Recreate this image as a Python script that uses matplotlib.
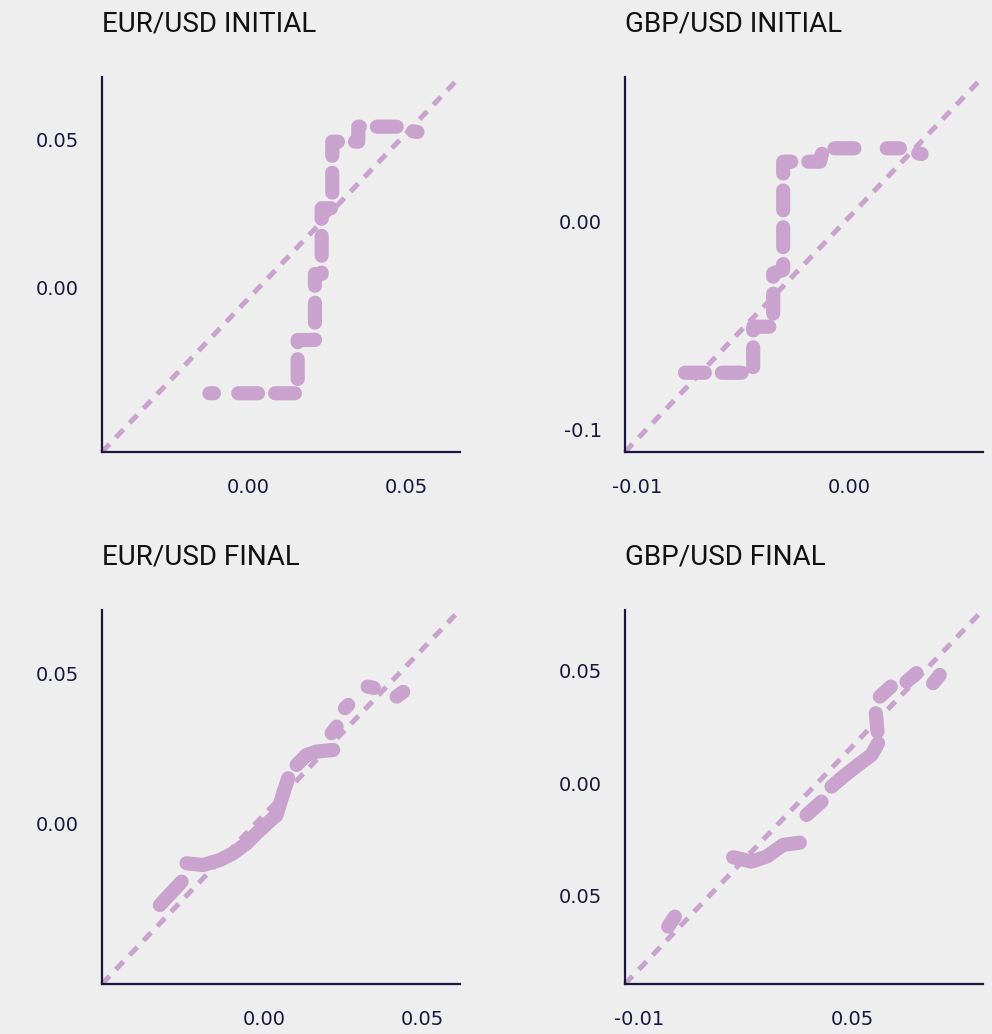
import matplotlib
matplotlib.use("Agg")
import matplotlib.pyplot as plt

bg = "#eeeeee"
navy = "#17173f"
lilac = "#c9a2cd"
nan = float("nan")

titles = ["EUR/USD INITIAL", "GBP/USD INITIAL", "EUR/USD FINAL", "GBP/USD FINAL"]

# quantile pairs (theoretical, sample) for each panel; nan splits the runs
eur_init_x = [-0.01218, -0.01076, nan,
              -0.00307, 0.01573, 0.01573, 0.02120, 0.02120, 0.02332, 0.02332, 0.02668, 0.02668,
              0.03491, 0.03491, 0.04706, nan,
              0.05222, 0.05364]
eur_init_y = [-0.03557, -0.03557, nan,
              -0.03557, -0.03557, -0.01757, -0.01757, 0.00473, 0.00473, 0.02693, 0.02693, 0.04943,
              0.04943, 0.05449, 0.05449, nan,
              0.05294, 0.05270]

gbp_init_x = [-0.00773, -0.00453, -0.00453, -0.00359, -0.00359, -0.00312, -0.00312, -0.00139,
              -0.00124, 0.00080, nan,
              0.00174, 0.00236, nan,
              0.00322, 0.00338]
gbp_init_y = [-0.07260, -0.07260, -0.05048, -0.05048, -0.02481, -0.02322, 0.02885, 0.02885,
              0.03529, 0.03529, nan,
              0.03529, 0.03529, nan,
              0.03288, 0.03255]

eur_final_x = [-0.03307, -0.02620, nan,
               -0.02462, -0.01937, -0.01408, -0.00987, -0.00563, -0.00196, 0.00386, 0.00595, 0.00753, nan,
               0.01019, 0.01335, 0.01652, 0.02177, nan,
               0.02127, 0.02285, nan,
               0.02547, 0.02652, nan,
               0.03266, 0.03465, nan,
               0.04184, 0.04392]
eur_final_y = [-0.02700, -0.01923, nan,
               -0.01310, -0.01367, -0.01200, -0.00977, -0.00643, -0.00257, 0.00300, 0.01023, 0.01523, nan,
               0.01967, 0.02300, 0.02410, 0.02467, nan,
               0.03023, 0.03243, nan,
               0.03857, 0.03967, nan,
               0.04577, 0.04533, nan,
               0.04243, 0.04400]

gbp_final_x = [-0.00178, 0.00009, nan,
               0.01644, 0.02160, 0.02580, 0.03046, 0.03514, nan,
               0.03702, 0.04122, nan,
               0.04403, 0.04728, 0.05149, 0.05524, 0.05709, nan,
               0.05692, 0.05645, nan,
               0.05757, 0.06065, nan,
               0.06505, 0.06786, nan,
               0.07251, 0.07439]
gbp_final_y = [-0.06373, -0.05929, nan,
               -0.03289, -0.03484, -0.03262, -0.02742, -0.02640, nan,
               -0.01409, -0.00818, nan,
               -0.00151, 0.00293, 0.00813, 0.01258, 0.01778, nan,
               0.02293, 0.03111, nan,
               0.03849, 0.04293, nan,
               0.04516, 0.04889, nan,
               0.04444, 0.04813]

xlims = [(-0.0462, 0.0671), (-0.01055, 0.00626), (-0.0514, 0.0619), (-0.0139, 0.0865)]
ylims = [(-0.0554, 0.0713), (-0.1107, 0.0696), (-0.0533, 0.0713), (-0.0892, 0.0770)]

xtick_vals = [[0.0, 0.05], [-0.01, 0.0], [0.0, 0.05], [-0.01, 0.05]]
xtick_labels = [["0.00", "0.05"], ["-0.01", "0.00"], ["0.00", "0.05"], ["-0.01", "0.05"]]
ytick_vals = [[0.0, 0.05], [-0.1, 0.0], [0.0, 0.05], [-0.05, 0.0, 0.05]]
ytick_labels = [["0.00", "0.05"], ["-0.1", "0.00"], ["0.00", "0.05"], ["0.05", "0.00", "0.05"]]

series = [(eur_init_x, eur_init_y), (gbp_init_x, gbp_init_y),
          (eur_final_x, eur_final_y), (gbp_final_x, gbp_final_y)]

fig = plt.figure(figsize=(9.92, 10.34), dpi=100, facecolor=bg)

positions = [
    [0.1028, 0.5629, 0.3609, 0.3627],
    [0.6300, 0.5629, 0.3609, 0.3627],
    [0.1028, 0.0484, 0.3609, 0.3617],
    [0.6300, 0.0484, 0.3609, 0.3617],
]

for i, pos in enumerate(positions):
    ax = fig.add_axes(pos)
    ax.set_facecolor(bg)
    ax.set_xlim(*xlims[i])
    ax.set_ylim(*ylims[i])

    # reference diagonal
    ax.plot([0, 1], [0, 1], transform=ax.transAxes, color=lilac, lw=3.6,
            dashes=(2.2, 1.8), dash_capstyle="butt", clip_on=False)

    x, y = series[i]
    if i < 2:
        # long step runs get broken into dashes
        ax.plot(x, y, color=lilac, lw=10.2, dashes=(1.4, 1.2),
                dash_capstyle="round", dash_joinstyle="round")
    else:
        ax.plot(x, y, color=lilac, lw=10.2, solid_capstyle="round",
                solid_joinstyle="round")

    for s in ["top", "right"]:
        ax.spines[s].set_visible(False)
    for s in ["left", "bottom"]:
        ax.spines[s].set_color(navy)
        ax.spines[s].set_linewidth(1.6)

    ax.set_xticks(xtick_vals[i], xtick_labels[i])
    ax.set_yticks(ytick_vals[i], ytick_labels[i])
    ax.tick_params(axis="both", length=0, labelsize=14, labelcolor=navy)
    ax.tick_params(axis="x", pad=19)
    ax.tick_params(axis="y", pad=16.5)

    ax.set_title(titles[i], loc="left", fontsize=20, color="#111111",
                 family="Roboto", pad=33)

fig.savefig("out.png", dpi=100, facecolor=bg)
